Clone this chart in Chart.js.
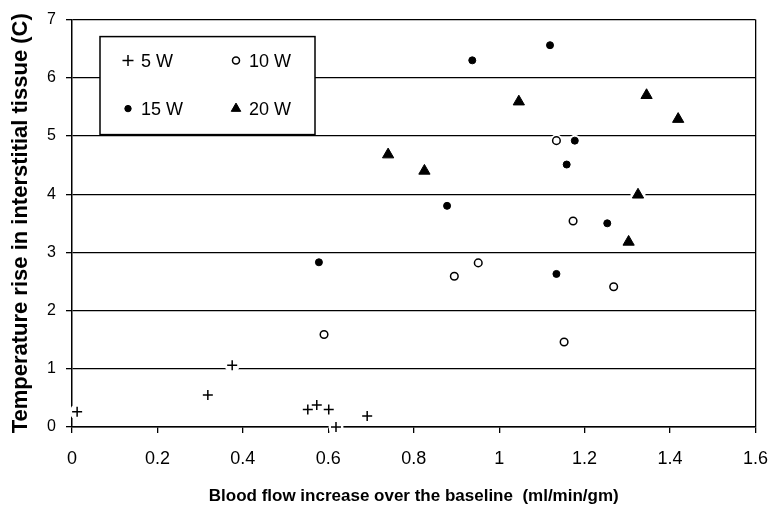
<!DOCTYPE html>
<html lang="en">
<head>
    <meta charset="UTF-8" />
    <title>Temperature rise vs blood flow</title>
    <script src="https://cdn.jsdelivr.net/npm/chart.js@4.4.1/dist/chart.umd.min.js"></script>
    <style>
        html, body { margin: 0; padding: 0; background: #fff; }
    </style>
</head>
<body>
    <canvas id="scatterChart" width="783" height="507"></canvas>

    <script>
        // Series labels and values
        const seriesLabels = ['5 W', '10 W', '15 W', '20 W'];

        const flow5W = [0.012, 0.318, 0.375, 0.552, 0.573, 0.601, 0.618, 0.691];
        const temp5W = [0.26, 0.55, 1.06, 0.30, 0.38, 0.30, 0.00, 0.19];

        const flow10W = [1.134, 1.173, 0.951, 0.895, 1.268, 0.590, 1.152];
        const temp10W = [4.92, 3.54, 2.82, 2.59, 2.41, 1.59, 1.46];

        const flow15W = [1.119, 0.937, 1.177, 1.158, 0.878, 1.253, 0.578, 1.134];
        const temp15W = [6.56, 6.30, 4.92, 4.51, 3.80, 3.50, 2.83, 2.63];

        const flow20W = [1.046, 1.345, 1.419, 0.740, 0.825, 1.325, 1.303];
        const temp20W = [5.59, 5.70, 5.29, 4.68, 4.40, 3.99, 3.18];

        const xMin = 0, xMax = 1.6, xStep = 0.2;
        const yMin = 0, yMax = 7, yStep = 1;

        const FONT = "'Liberation Sans', Arial, sans-serif";

        function toPoints(xs, ys) {
            return xs.map((x, i) => ({ x: x, y: ys[i] }));
        }

        // white halo behind every marker, the way the gridlines break around them
        const markerHalo = {
            id: 'markerHalo',
            beforeDatasetsDraw(chart) {
                const ctx = chart.ctx;
                ctx.save();
                ctx.fillStyle = '#fff';
                chart.data.datasets.forEach((ds, i) => {
                    const r = Math.min(ds.pointRadius + 2.5, 7.5);
                    chart.getDatasetMeta(i).data.forEach(pt => {
                        ctx.beginPath();
                        ctx.arc(pt.x, pt.y, r, 0, Math.PI * 2);
                        ctx.fill();
                    });
                });
                ctx.restore();
            }
        };

        // boxed 2x2 legend inside the plot area
        const boxLegend = {
            id: 'boxLegend',
            afterDraw(chart) {
                const ctx = chart.ctx;
                const area = chart.chartArea;
                const left = area.left + 28, top = area.top + 17;
                const w = 215, h = 98;
                ctx.save();
                ctx.fillStyle = '#fff';
                ctx.fillRect(left, top, w, h);
                ctx.strokeStyle = '#000';
                ctx.lineWidth = 1.5;
                ctx.strokeRect(left, top, w, h);

                const cols = [left + 28, left + 136];
                const rows = [top + 24, top + 72];
                const legendRadius = [5.5, 3.5, 3.2, 5.5];
                ctx.font = '18px ' + FONT;
                ctx.textBaseline = 'middle';
                chart.data.datasets.forEach((ds, i) => {
                    const cx = cols[i % 2], cy = rows[Math.floor(i / 2)];
                    ctx.fillStyle = ds.backgroundColor;
                    ctx.strokeStyle = ds.borderColor;
                    ctx.lineWidth = ds.borderWidth;
                    Chart.helpers.drawPoint(ctx, {
                        pointStyle: ds.pointStyle,
                        radius: legendRadius[i],
                        borderWidth: ds.borderWidth,
                        rotation: 0
                    }, cx, cy);
                    ctx.fillStyle = '#000';
                    ctx.fillText(ds.label, cx + 13, cy + 1);
                });
                ctx.restore();
            }
        };

        const ctx = document.getElementById('scatterChart').getContext('2d');
        new Chart(ctx, {
            type: 'scatter',
            data: {
                datasets: [
                    {
                        label: seriesLabels[0],
                        data: toPoints(flow5W, temp5W),
                        pointStyle: 'cross',
                        pointRadius: 5,
                        borderColor: '#000',
                        backgroundColor: '#000',
                        borderWidth: 1.5,
                        clip: false
                    },
                    {
                        label: seriesLabels[1],
                        data: toPoints(flow10W, temp10W),
                        pointStyle: 'circle',
                        pointRadius: 3.8,
                        borderColor: '#000',
                        backgroundColor: '#fff',
                        borderWidth: 1.5,
                        clip: false
                    },
                    {
                        label: seriesLabels[2],
                        data: toPoints(flow15W, temp15W),
                        pointStyle: 'circle',
                        pointRadius: 3.5,
                        borderColor: '#000',
                        backgroundColor: '#000',
                        borderWidth: 1,
                        clip: false
                    },
                    {
                        label: seriesLabels[3],
                        data: toPoints(flow20W, temp20W),
                        pointStyle: 'triangle',
                        pointRadius: 6.5,
                        borderColor: '#000',
                        backgroundColor: '#000',
                        borderWidth: 1,
                        clip: false
                    }
                ]
            },
            options: {
                responsive: false,
                animation: false,
                layout: {
                    padding: { top: 14, right: 26, left: 0, bottom: 0 }
                },
                scales: {
                    x: {
                        type: 'linear',
                        min: xMin,
                        max: xMax,
                        afterFit: (scale) => { scale.height = 80; },
                        afterBuildTicks: (scale) => {
                            const ticks = [];
                            for (let v = xMin; v <= xMax + 1e-9; v += xStep) ticks.push({ value: +v.toFixed(1) });
                            scale.ticks = ticks;
                        },
                        border: { display: true, color: '#000', width: 1.5 },
                        grid: {
                            color: (c) => (c.tick && Math.abs(c.tick.value - xMax) < 1e-6) ? '#000' : 'rgba(0,0,0,0)',
                            tickColor: '#000',
                            tickLength: 6,
                            lineWidth: 1.3
                        },
                        ticks: {
                            color: '#000',
                            font: { family: FONT, size: 18 },
                            padding: 15,
                            maxRotation: 0,
                            autoSkip: false,
                            callback: (v) => String(+(+v).toFixed(1))
                        },
                        title: {
                            display: true,
                            text: 'Blood flow increase over the baseline  (ml/min/gm)',
                            color: '#000',
                            font: { family: FONT, size: 17, weight: 'bold' },
                            padding: { top: 0, bottom: 0 }
                        }
                    },
                    y: {
                        min: yMin,
                        max: yMax,
                        afterFit: (scale) => { scale.width = 72; },
                        border: { display: true, color: '#000', width: 1.5 },
                        grid: {
                            color: '#000',
                            tickColor: '#000',
                            tickLength: 6,
                            lineWidth: 1.3
                        },
                        ticks: {
                            stepSize: yStep,
                            color: '#000',
                            font: { family: FONT, size: 16 },
                            padding: 10
                        },
                        title: {
                            display: true,
                            text: 'Temperature rise in interstitial tissue (C)',
                            color: '#000',
                            font: { family: FONT, size: 22, weight: 'bold' },
                            padding: { top: 8, bottom: 0 }
                        }
                    }
                },
                plugins: {
                    legend: { display: false },
                    tooltip: { enabled: false }
                }
            },
            plugins: [markerHalo, boxLegend]
        });
    </script>
</body>
</html>
